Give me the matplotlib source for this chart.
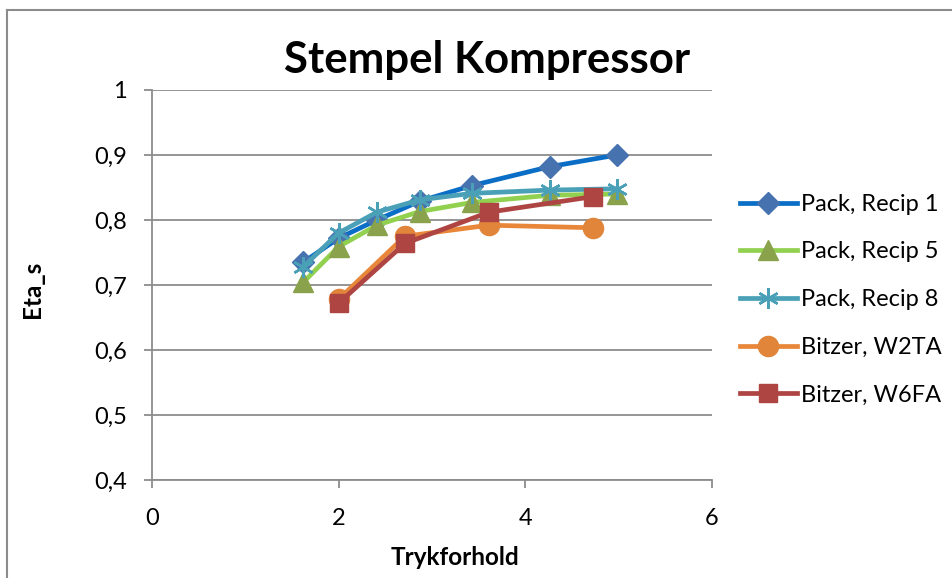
import matplotlib
matplotlib.use("Agg")
import matplotlib.pyplot as plt
from matplotlib.lines import Line2D
from matplotlib.ticker import FuncFormatter

plt.rcParams['font.family'] = ['Lato', 'DejaVu Sans']

# Data
x_pack = [1.62, 2.0, 2.41, 2.87, 3.43, 4.26, 4.98]
recip1 = [0.735, 0.772, 0.800, 0.829, 0.853, 0.882, 0.900]
recip5 = [0.704, 0.759, 0.792, 0.813, 0.827, 0.838, 0.840]
recip8 = [0.728, 0.780, 0.812, 0.831, 0.841, 0.846, 0.848]
x_bitzer = [2.0, 2.71, 3.61, 4.73]
w2ta = [0.678, 0.775, 0.792, 0.788]
w6fa = [0.672, 0.764, 0.812, 0.836]

labels = ["Pack, Recip 1", "Pack, Recip 5", "Pack, Recip 8", "Bitzer, W2TA", "Bitzer, W6FA"]
xticks = [0, 2, 4, 6]
yticks = [0.4, 0.5, 0.6, 0.7, 0.8, 0.9, 1.0]

fig = plt.figure(figsize=(9.53, 5.78), dpi=100)
ax = fig.add_axes([0.1595, 0.1696, 0.5876, 0.6747])

grid_c = '#8c8c8c'
ax.set_xlim(0, 6)
ax.set_ylim(0.4, 1.0)
ax.set_yticks(yticks)
ax.set_xticks(xticks)
for y in yticks:
    ax.axhline(y, color=grid_c, lw=1.3, zorder=1)

ax.plot(x_pack, recip1, color='#0a6ec6', lw=3.4, marker='D', ms=11.5,
        mfc='#4672b0', mec='#4672b0', label=labels[0], zorder=3)
ax.plot(x_pack, recip5, color='#92d050', lw=3.4, marker='^', ms=14.5,
        mfc='#8ba24c', mec='#8ba24c', label=labels[1], zorder=3)
ax.plot(x_pack, recip8, color='#4aa0b6', lw=3.4, marker=(6, 2, 0), ms=15,
        mfc='#4aa0b6', mec='#4aa0b6', mew=1.8, label=labels[2], zorder=3)
ax.plot(x_bitzer, w2ta, color='#e8873a', lw=3.4, marker='o', ms=14.5,
        mfc='#e0853a', mec='#e0853a', label=labels[3], zorder=3)
ax.plot(x_bitzer, w6fa, color='#ae4543', lw=3.4, marker='s', ms=13.5,
        mfc='#ae4543', mec='#ae4543', label=labels[4], zorder=3)

for s in ['top', 'right']:
    ax.spines[s].set_visible(False)
for s in ['left', 'bottom']:
    ax.spines[s].set_color(grid_c)
    ax.spines[s].set_linewidth(1.3)
ax.tick_params(axis='both', direction='out', length=6, width=1.3, color=grid_c,
               labelsize=17)
ax.tick_params(axis='x', pad=14)
ax.tick_params(axis='y', pad=12)
ax.yaxis.set_major_formatter(FuncFormatter(lambda v, p: ('%g' % round(v, 1)).replace('.', ',')))
ax.xaxis.set_major_formatter(FuncFormatter(lambda v, p: '%g' % v))

fig.text(0.477, 0.035, 'Trykforhold', fontsize=17.5, fontweight='bold',
         ha='center', va='center')
fig.text(0.0346, 0.5, 'Eta_s', fontsize=17.5, fontweight='bold',
         ha='center', va='center', rotation=90)
fig.text(0.5115, 1 - 73 / 578, 'Stempel Kompressor', fontsize=31.5, fontweight='bold',
         ha='center', va='baseline')

leg = ax.legend(loc='upper left', bbox_to_anchor=(1.033, 0.758), frameon=False,
                fontsize=17, handlelength=2.4, labelspacing=1.13,
                handletextpad=0.17, borderaxespad=0)

# outer chart frame
fig.add_artist(Line2D([0.0075, 0.0075], [0, 0.983], transform=fig.transFigure,
                      color='#8c8c8c', lw=1.5))
fig.add_artist(Line2D([0.0075, 1.0], [0.983, 0.983], transform=fig.transFigure,
                      color='#8c8c8c', lw=1.5))

fig.savefig('out.png', dpi=100)
